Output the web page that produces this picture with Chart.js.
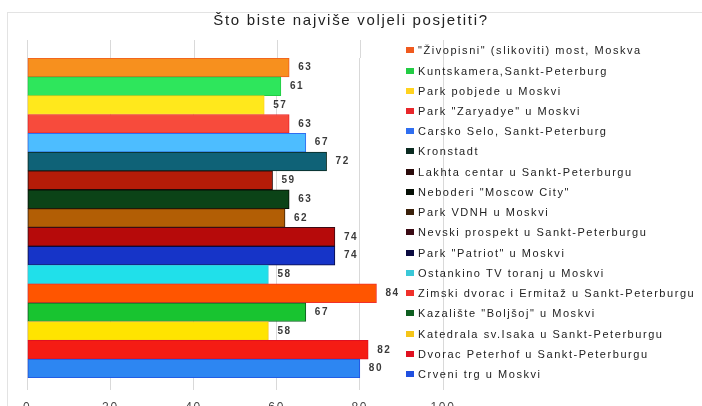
<!DOCTYPE html>
<html>
<head>
<meta charset="utf-8">
<script src="https://cdn.jsdelivr.net/npm/chart.js@4"></script>
<style>
  html, body { margin: 0; padding: 0; background: #fff; }
  #wrap { position: relative; width: 702px; height: 406px; overflow: hidden; }
  #c { position: absolute; left: 0; top: 0; }
  #legend { position: absolute; left: 0; top: 0; width: 702px; height: 406px; pointer-events: none; }
  .li { position: absolute; left: 406px; height: 14px; line-height: 14px; white-space: nowrap;
        font-family: "Liberation Sans", Arial, sans-serif; font-size: 11px; letter-spacing: 1.55px; color: #222; }
  .li i { position: absolute; left: 0; top: 4px; width: 8px; height: 6px; }
  .li span { position: absolute; left: 12px; top: 0; }
</style>
</head>
<body>
<div id="wrap">
  <canvas id="c" width="702" height="406"></canvas>
  <div id="legend"></div>
</div>
<script>
// ---- data ----
const chartTitle = 'Što biste najviše voljeli posjetiti?';
const categories = [
  '"Živopisni" (slikoviti) most, Moskva',
  'Kuntskamera,Sankt-Peterburg',
  'Park pobjede u Moskvi',
  'Park "Zaryadye" u Moskvi',
  'Carsko Selo, Sankt-Peterburg',
  'Kronstadt',
  'Lakhta centar u Sankt-Peterburgu',
  'Neboderi "Moscow City"',
  'Park VDNH u Moskvi',
  'Nevski prospekt u Sankt-Peterburgu',
  'Park "Patriot" u Moskvi',
  'Ostankino TV toranj u Moskvi',
  'Zimski dvorac i Ermitaž u Sankt-Peterburgu',
  'Kazalište "Boljšoj" u Moskvi',
  'Katedrala sv.Isaka u Sankt-Peterburgu',
  'Dvorac Peterhof u Sankt-Peterburgu',
  'Crveni trg u Moskvi'
];
const values = [63, 61, 57, 63, 67, 72, 59, 63, 62, 74, 74, 58, 84, 67, 58, 82, 80];
const xTicks = [0, 20, 40, 60, 80, 100];

// ---- styles ----
const barColors = ['#F7901E', '#2EE65C', '#FFE81C', '#F74B3C', '#4DBDFF', '#0F6277', '#B51C08', '#0B4317', '#B25E05',
                   '#B60A0A', '#1634C8', '#20E0EA', '#FF5500', '#18C430', '#FFE400', '#F51C14', '#2D86F2'];
const edgeColors = ['#F05A1E', '#22CC44', '#FFD21E', '#E8262A', '#2F6EF0', '#0A2A20', '#2A0A0A', '#050F05', '#3A200A',
                    '#3A0A14', '#0A0A40', '#3AC8D8', '#F0302A', '#0E5E20', '#F5C518', '#E01020', '#2050E0'];
const FONT = '"Liberation Sans", Arial, sans-serif';
const GRID = '#d9d9d9';

const framePlugin = {
  id: 'frame',
  beforeDraw(chart) {
    const ctx = chart.ctx;
    ctx.save();
    ctx.strokeStyle = '#e3e3e3';
    ctx.lineWidth = 1;
    ctx.strokeRect(7.5, 12.5, 760, 460);
    ctx.restore();
    ctx.letterSpacing = '1.7px';
  }
};

const gridTopPlugin = {
  id: 'gridTop',
  beforeDatasetsDraw(chart) {
    const ctx = chart.ctx, xs = chart.scales.x, top = chart.chartArea.top;
    ctx.save();
    ctx.strokeStyle = GRID;
    ctx.lineWidth = 1;
    xs.ticks.forEach(t => {
      const px = Math.round(xs.getPixelForValue(t.value)) + 0.5;
      ctx.beginPath();
      ctx.moveTo(px, 40);
      ctx.lineTo(px, top);
      ctx.stroke();
    });
    ctx.restore();
  }
};

const valueLabelPlugin = {
  id: 'valueLabels',
  afterDatasetsDraw(chart) {
    const ctx = chart.ctx;
    const meta = chart.getDatasetMeta(0);
    ctx.save();
    ctx.font = 'bold 10px ' + FONT;
    ctx.letterSpacing = '1.5px';
    ctx.fillStyle = '#3a3a3a';
    ctx.textBaseline = 'middle';
    ctx.textAlign = 'left';
    meta.data.forEach((el, i) => {
      ctx.fillText(String(values[i]), el.x + 9, el.y);
    });
    ctx.restore();
  }
};

const hiddenAxis = (w, pos) => ({
  position: pos,
  display: true,
  grid: { display: false },
  border: { display: false },
  ticks: { display: false },
  afterFit: (s) => { s.width = w; }
});

const chart = new Chart(document.getElementById('c'), {
  type: 'bar',
  data: {
    labels: categories,
    datasets: [{
      data: values,
      backgroundColor: barColors,
      borderColor: edgeColors,
      borderWidth: 1,
      borderSkipped: false,
      barPercentage: 1,
      categoryPercentage: 1
    }]
  },
  options: {
    indexAxis: 'y',
    responsive: false,
    animation: false,
    layout: { padding: 0 },
    plugins: {
      legend: { display: false },
      tooltip: { enabled: false },
      title: {
        display: true,
        text: chartTitle,
        color: '#222',
        font: { family: FONT, size: 15, weight: 'normal' },
        padding: { top: 12, bottom: 28 }
      }
    },
    scales: {
      x: {
        min: 0,
        max: 100,
        afterBuildTicks: (s) => { s.ticks = xTicks.map(v => ({ value: v })); },
        afterFit: (s) => { s.height = 28; },
        grid: { color: GRID, tickColor: GRID, tickLength: 12, drawTicks: true },
        border: { display: false },
        ticks: { color: '#444', font: { family: FONT, size: 12 }, padding: 10, maxRotation: 0 }
      },
      y: hiddenAxis(27.3, 'left'),
      yRight: Object.assign({ type: 'category', axis: 'y' }, hiddenAxis(259, 'right'))
    }
  },
  plugins: [framePlugin, gridTopPlugin, valueLabelPlugin]
});

// HTML legend built from the same arrays
const legendEl = document.getElementById('legend');
categories.forEach((name, i) => {
  const d = document.createElement('div');
  d.className = 'li';
  d.style.top = (50.3 + i * 20.23 - 7) + 'px';
  const box = document.createElement('i');
  box.style.background = edgeColors[i];
  const txt = document.createElement('span');
  txt.textContent = name;
  d.appendChild(box);
  d.appendChild(txt);
  legendEl.appendChild(d);
});
</script>
</body>
</html>
